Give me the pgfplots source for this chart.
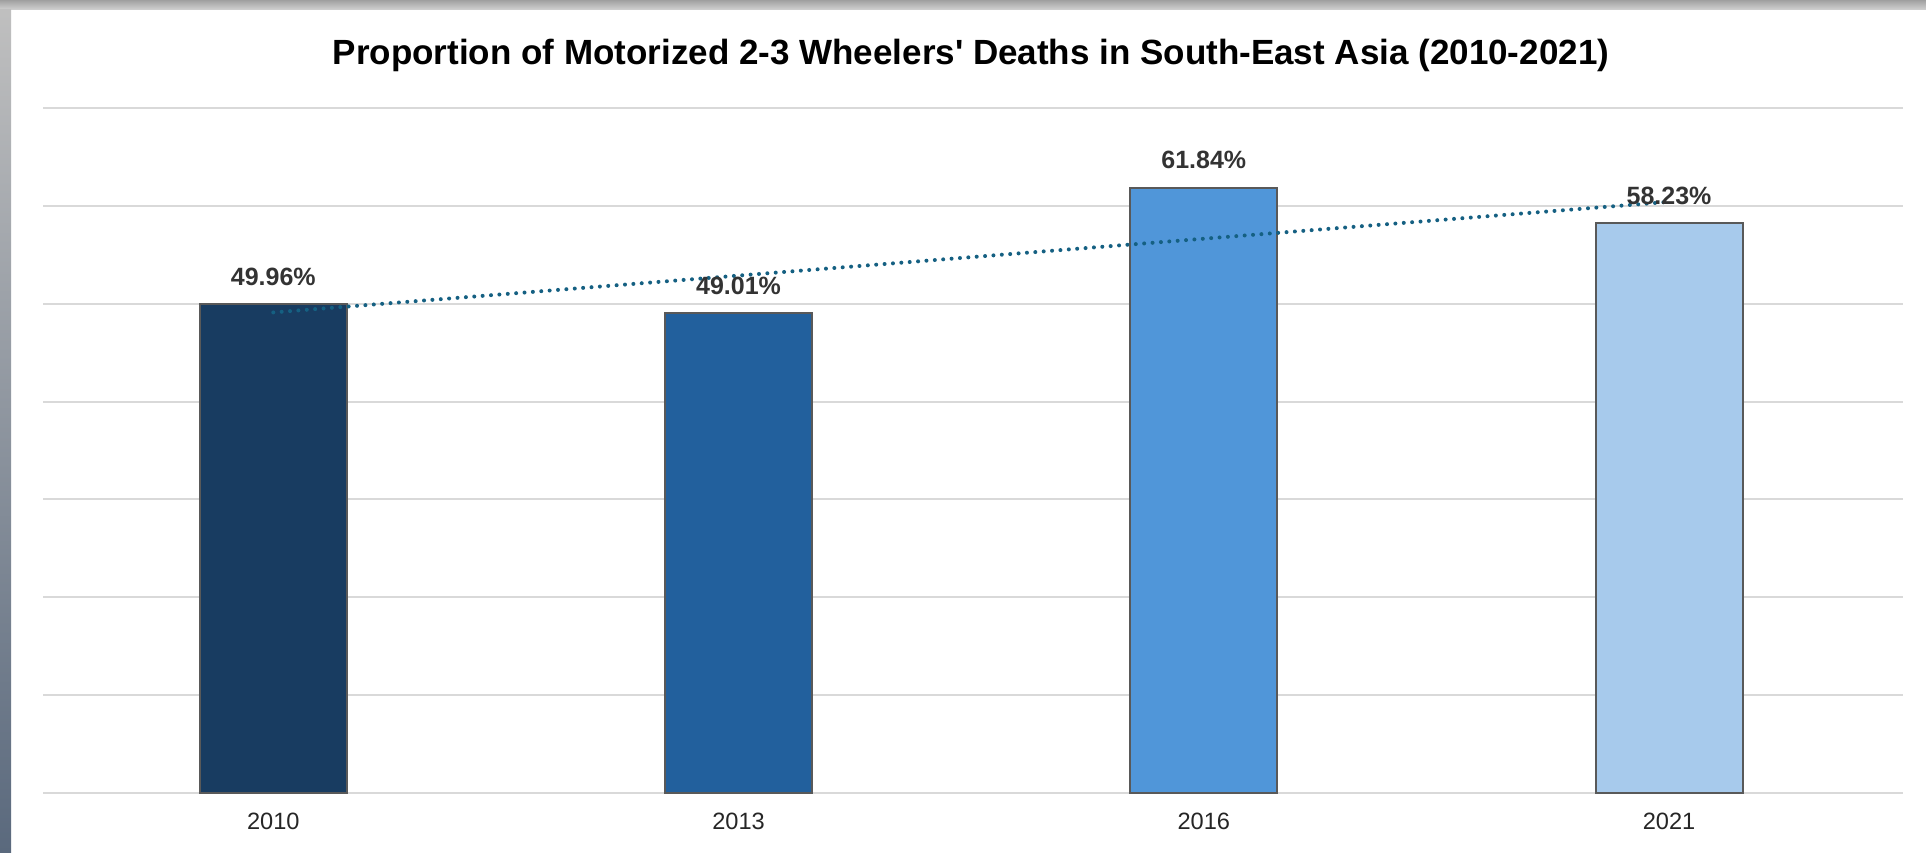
\documentclass[border=0pt]{standalone}
\usepackage{pgfplots}
\pgfplotsset{compat=1.18}
\usepackage{fontspec}
\setmainfont{Liberation Sans}
\definecolor{barA}{RGB}{24,60,97}
\definecolor{barB}{RGB}{34,96,157}
\definecolor{barC}{RGB}{80,150,217}
\definecolor{barD}{RGB}{167,202,236}
\definecolor{barEdge}{RGB}{89,89,89}
\definecolor{trend}{RGB}{21,96,130}
\definecolor{gridc}{RGB}{217,217,217}
\definecolor{lbl}{RGB}{51,51,51}
\begin{document}
\begin{tikzpicture}
\path[use as bounding box] (0,0) rectangle (963pt,426pt);
\fill[white] (0,0) rectangle (963pt,426pt);
\shade[top color=gray!75, bottom color=gray!35] (0,421pt) rectangle (963pt,426pt);
\shade[top color=gray!50, bottom color={rgb,255:red,90;green,105;blue,125}] (0,0) rectangle (5.5pt,421pt);
\begin{axis}[
  at={(21.5pt,29.5pt)}, anchor=south west,
  scale only axis, width=930pt, height=342.5pt,
  xmin=-0.495, xmax=3.503, ymin=0, ymax=70,
  ytick={0,10,...,70}, yticklabels={},
  xtick={0,1,2,3}, xticklabels={2010,2013,2016,2021},
  major tick length=0pt,
  axis line style={draw=none},
  ymajorgrids, grid style={gridc, line width=1pt},
  xticklabel style={font=\fontsize{11.8}{14}\selectfont, text=black!85, inner sep=0pt, yshift=-10pt},
  /pgf/number format/assume math mode=true,
  ybar, bar width=73.5pt, bar shift=0pt,
  every axis plot/.append style={draw=barEdge, line width=1pt},
  nodes near coords={\pgfmathprintnumber[fixed,precision=2,fixed zerofill]{\pgfplotspointmeta}\%},
  every node near coord/.append style={font=\bfseries\fontsize{12.5}{15}\selectfont, text=lbl, anchor=base, inner sep=0pt, yshift=9.5pt},
  clip=false,
]
\addplot[fill=barA] coordinates {(0,49.96)};
\addplot[fill=barB] coordinates {(1,49.01)};
\addplot[fill=barC] coordinates {(2,61.84)};
\addplot[fill=barD] coordinates {(3,58.23)};
\addplot[sharp plot, draw=trend, line width=2pt, line cap=round, dash pattern=on 0pt off 4.2pt, nodes near coords={}, forget plot] coordinates {(0,49.11) (3,60.41)};
\end{axis}
\node[anchor=base, font=\bfseries\fontsize{17.5}{21}\selectfont, text=black] at (485.5pt,393.5pt) {Proportion of Motorized 2-3 Wheelers\textquotesingle{} Deaths in South-East Asia (2010-2021)};
\end{tikzpicture}
\end{document}
